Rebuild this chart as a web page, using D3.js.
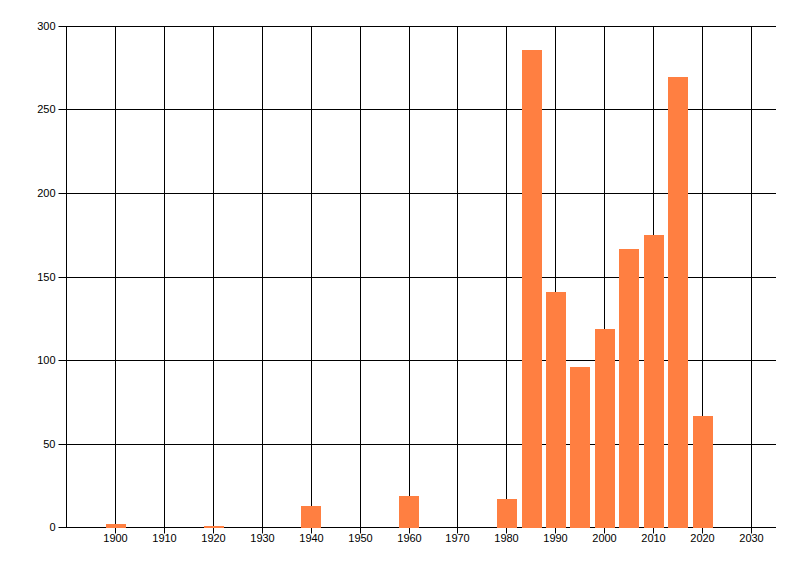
<!DOCTYPE html>
<html><head><meta charset="utf-8">
<script src="https://cdn.jsdelivr.net/npm/d3@7"></script>
<style>body{margin:0;background:#fff;}svg{display:block;}</style>
</head><body>
<svg id="c" width="800" height="576"></svg>
<script>
const years = [1900, 1920, 1940, 1960, 1980, 1985, 1990, 1995, 2000, 2005, 2010, 2015, 2020];
const counts = [2, 1, 13, 19, 17, 286, 141, 96, 119, 167, 175, 270, 67];
const xTicks = [1900, 1910, 1920, 1930, 1940, 1950, 1960, 1970, 1980, 1990, 2000, 2010, 2020, 2030];
const yTicks = [0, 50, 100, 150, 200, 250, 300];

const svg = d3.select("#c");
const L = 66.5, R = 776, T = 26.5, B = 527.5;
const x = d3.scaleLinear().domain([1890, 2035]).range([L, R]);
const y = d3.scaleLinear().domain([0, 300]).range([B, T]);
const font = "'Liberation Sans', Arial, sans-serif";
const px = (v) => Math.round(v - 0.5) + 0.5;

// grid lines via axes
const gx = svg.append("g").attr("transform", `translate(0,${B})`)
  .call(d3.axisBottom(x).tickValues(xTicks).tickFormat(d3.format("d"))
    .tickSizeInner(-(B - T)).tickSizeOuter(0).tickPadding(8).offset(0));
gx.select(".domain").remove();
gx.selectAll(".tick").attr("transform", (d) => `translate(${px(x(d))},0)`);
gx.selectAll(".tick line").attr("stroke", "#000").attr("y2", -(B - T)).attr("y1", 6);
gx.selectAll("text").attr("font-family", font).attr("font-size", 11).attr("fill", "#000").attr("dy", "0.55em");

const gy = svg.append("g").attr("transform", `translate(${L},0)`)
  .call(d3.axisLeft(y).tickValues(yTicks).tickFormat(d3.format("d"))
    .tickSizeInner(-(R - L)).tickSizeOuter(0).tickPadding(11).offset(0));
gy.select(".domain").remove();
gy.selectAll(".tick").attr("transform", (d) => `translate(0,${px(y(d))})`);
gy.selectAll(".tick line").attr("stroke", "#000").attr("x1", -8).attr("x2", R - L);
gy.selectAll("text").attr("font-family", font).attr("font-size", 11).attr("fill", "#000");

// y axis line
svg.append("line").attr("x1", L).attr("x2", L).attr("y1", T).attr("y2", B).attr("stroke", "#000");

// bars drawn over the grid
const bw = x(1904) - x(1900);
svg.append("g").selectAll("rect").data(years).join("rect")
  .attr("x", (d) => Math.round(x(d) - bw / 2))
  .attr("width", Math.round(bw))
  .attr("y", (d, i) => Math.round(y(counts[i])))
  .attr("height", (d, i) => Math.round(y(0)) - Math.round(y(counts[i])))
  .attr("fill", "#FF7F41");
</script>
</body></html>
